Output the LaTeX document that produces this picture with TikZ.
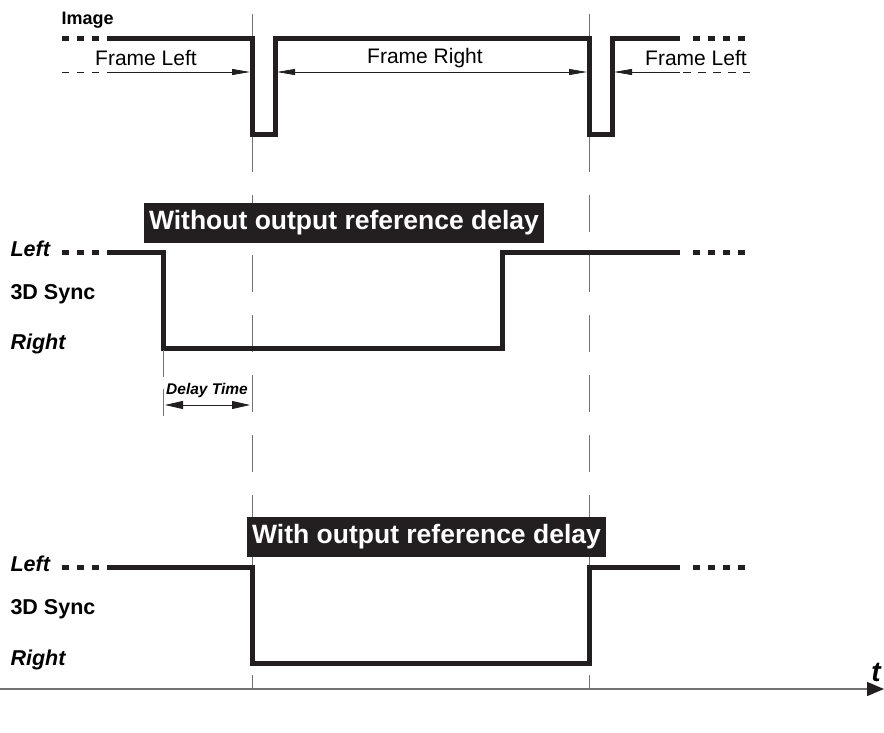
\documentclass[tikz,border=0pt]{standalone}
\usepackage{fontspec}
\setmainfont{Liberation Sans}
\usetikzlibrary{arrows.meta}

\definecolor{tinta}{HTML}{231F20}

\tikzset{
  senal/.style={line width=5pt, tinta},
  puntos/.style={line width=5pt, tinta, dash pattern=on 7pt off 8pt},
  guia/.style={line width=1pt, black!55},
  cota/.style={line width=0.8pt, tinta},
  punta/.tip={Triangle[length=18pt,width=6pt]},
  titulo/.style={fill=tinta, text=white, inner xsep=0pt, inner ysep=0pt,
    minimum height=40pt, font=\bfseries\fontsize{26.5}{26.5}\selectfont},
  etiq/.style={anchor=west, font=\bfseries\fontsize{21.5}{21.5}\selectfont},
  etiqit/.style={etiq, font=\bfseries\itshape\fontsize{21.5}{21.5}\selectfont},
  texto/.style={font=\fontsize{21}{21}\selectfont},
}

\begin{document}
\begin{tikzpicture}[x=1pt, y=-1pt]
    \useasboundingbox (0,0) rectangle (884,733);
    \def\xa{252}   % flanco 1
    \def\xb{589}   % flanco 2
    \def\xd{163}   % flanco con retardo

    % líneas guía verticales
    \foreach \xx in {\xa,\xb} {
        \draw[guia] (\xx,14) -- (\xx,172);
        \draw[guia, dash pattern=on 37pt off 23pt] (\xx,195) -- (\xx,690);
    }

    % señal de imagen
    \node[etiq, font=\bfseries\fontsize{18}{18}\selectfont] (imagen) at (58,20) {Image};
    \draw[puntos] (62,39) -- (107,39);
    \draw[senal] (107,39) -- (\xa,39) -- (\xa,135) -- (275,135) -- (275,39)
        -- (\xb,39) -- (\xb,135) -- (612,135) -- (612,39) -- (680,39);
    \draw[puntos] (693,39) -- (746,39);

    % cotas de los cuadros
    \draw[cota, dash pattern=on 7pt off 8pt] (62,72) -- (107,72);
    \draw[cota, -{punta}] (107,72) -- (250,72);
    \draw[cota, {punta}-{punta}] (277,72) -- (587,72);
    \draw[cota, -{punta}] (680,72) -- (614,72);
    \draw[cota, dash pattern=on 8pt off 7pt] (683,72) -- (750,72);
    \node[texto] (fl1) at (146,58) {Frame Left};
    \node[texto] (fr) at (425,58) {Frame Right};
    \node[texto] (fl2) at (696,58) {Frame Left};

    % sin retardo
    \node[titulo, minimum width=400pt] (sin) at (344,223) {Without output reference delay};
    \node[etiqit] (izq1) at (7,249) {Left};
    \node[etiq] (sync1) at (7,294) {3D Sync};
    \node[etiqit] (der1) at (7,344) {Right};
    \draw[puntos] (62,252) -- (107,252);
    \draw[senal] (107,252) -- (\xd,252) -- (\xd,348) -- (502,348) -- (502,252) -- (680,252);
    \draw[puntos] (693,252) -- (746,252);

    % tiempo de retardo
    \draw[guia, line width=0.8pt, dash pattern=on 27pt off 12pt] (\xd,350) -- (\xd,425);
    \draw[cota, {Triangle[length=18pt,width=8pt]}-{Triangle[length=18pt,width=8pt]}]
        (165,405) -- (250,405);
    \node[font=\bfseries\itshape\fontsize{15.5}{15.5}\selectfont] (retardo) at (207,390) {Delay Time};

    % con retardo
    \node[titulo, minimum width=359pt] (con) at (426.5,537) {With output reference delay};
    \node[etiqit] (izq2) at (7,564) {Left};
    \node[etiq] (sync2) at (7,609) {3D Sync};
    \node[etiqit] (der2) at (7,660) {Right};
    \draw[puntos] (62,567) -- (107,567);
    \draw[senal] (107,567) -- (\xa,567) -- (\xa,663) -- (\xb,663) -- (\xb,567) -- (680,567);
    \draw[puntos] (693,567) -- (746,567);

    % eje de tiempo
    \draw[line width=1.5pt, black!55, -{Triangle[length=17pt,width=14pt,color=tinta]}] (0,689) -- (884,689);
    \node[font=\bfseries\itshape\fontsize{28}{28}\selectfont] (t) at (876,672) {t};
\end{tikzpicture}
\end{document}
